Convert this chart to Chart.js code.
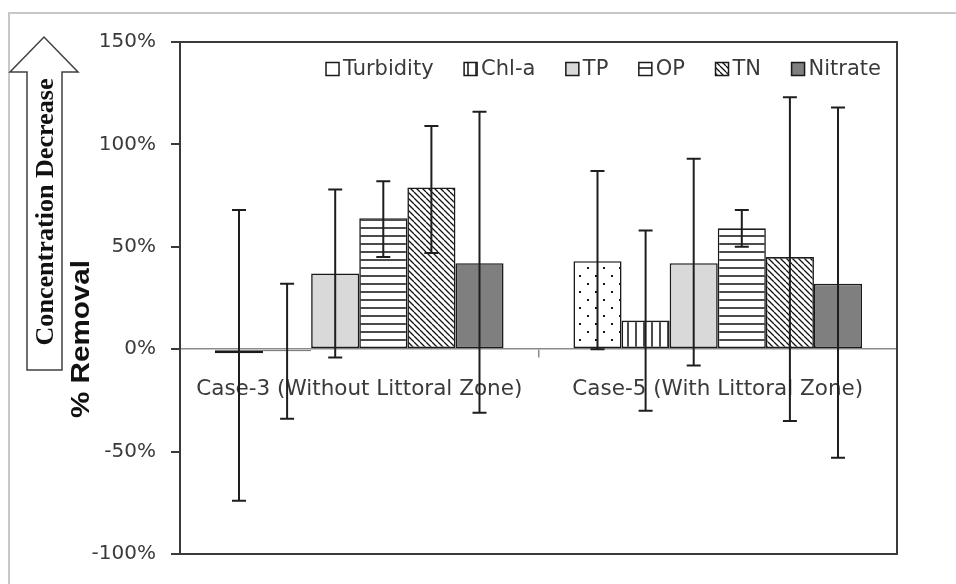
<!DOCTYPE html>
<html>
<head>
<meta charset="utf-8">
<script src="https://cdn.jsdelivr.net/npm/chart.js@4"></script>
<style>
  html, body { margin: 0; padding: 0; background: #fff; }
</style>
</head>
<body>
<canvas id="removalChart" width="956" height="584"></canvas>
<script>
// data (% removal)
const categories = ['Case-3 (Without Littoral Zone)', 'Case-5 (With Littoral Zone)'];
const seriesNames = ['Turbidity', 'Chl-a', 'TP', 'OP', 'TN', 'Nitrate'];
const turbidity = [-2, 43];
const chla = [-1, 14];
const tp = [37, 42];
const op = [64, 59];
const tn = [79, 45];
const nitrate = [42, 32];
// error bar ends: [low, high] per category
const turbidityErr = [[-74, 68], [0, 87]];
const chlaErr = [[-34, 32], [-30, 58]];
const tpErr = [[-4, 78], [-8, 93]];
const opErr = [[45, 82], [50, 68]];
const tnErr = [[47, 109], [-35, 123]];
const nitrateErr = [[-31, 116], [-53, 118]];
const yTicks = [-100, -50, 0, 50, 100, 150];

const textColor = '#3a3a3a';

function makePattern(size, bg, draw) {
  const c = document.createElement('canvas');
  c.width = size; c.height = size;
  const g = c.getContext('2d');
  g.fillStyle = bg;
  g.fillRect(0, 0, size, size);
  g.strokeStyle = '#111';
  g.fillStyle = '#111';
  draw(g, size);
  return c.getContext('2d').createPattern(c, 'repeat');
}

const ctx = document.getElementById('removalChart').getContext('2d');
const dotFill = makePattern(16, '#fff', (g) => {
  g.fillRect(3, 3, 2, 2);
  g.fillRect(11, 11, 2, 2);
});
const vLines = makePattern(8, '#fff', (g) => {
  g.lineWidth = 1.5;
  g.beginPath(); g.moveTo(4, 0); g.lineTo(4, 8); g.stroke();
});
const hLines = makePattern(8, '#fff', (g) => {
  g.lineWidth = 1.5;
  g.beginPath(); g.moveTo(0, 4); g.lineTo(8, 4); g.stroke();
});
const diagLines = makePattern(6, '#fff', (g, s) => {
  g.lineWidth = 1.3;
  g.beginPath();
  for (let k = -s; k <= s; k += s) { g.moveTo(k, 0); g.lineTo(k + s, s); }
  g.stroke();
});

const fills = [dotFill, vLines, '#d9d9d9', hLines, diagLines, '#7f7f7f'];
const values = [turbidity, chla, tp, op, tn, nitrate];
const errs = [turbidityErr, chlaErr, tpErr, opErr, tnErr, nitrateErr];

const datasets = seriesNames.map((name, i) => ({
  label: name,
  data: values[i],
  backgroundColor: fills[i],
  borderColor: '#1a1a1a',
  borderWidth: 1.6,
  borderSkipped: false,
  categoryPercentage: 0.805,
  barPercentage: 1
}));

// frame, error bars, legend, axis title and arrow note
const extras = {
  id: 'extras',
  beforeDraw(chart) {
    const c = chart.ctx;
    c.save();
    c.fillStyle = '#fff';
    c.fillRect(0, 0, chart.width, chart.height);
    c.strokeStyle = '#c8c8c8';
    c.lineWidth = 2;
    c.beginPath();
    c.moveTo(9, chart.height); c.lineTo(9, 13); c.lineTo(chart.width, 13);
    c.stroke();
    c.restore();
  },
  afterDatasetsDraw(chart) {
    const c = chart.ctx;
    const ys = chart.scales.y;
    c.save();
    c.strokeStyle = '#1e1e1e';
    c.lineWidth = 2;
    errs.forEach((set, i) => {
      chart.getDatasetMeta(i).data.forEach((bar, j) => {
        const lo = ys.getPixelForValue(set[j][0]);
        const hi = ys.getPixelForValue(set[j][1]);
        c.beginPath();
        c.moveTo(bar.x, lo); c.lineTo(bar.x, hi);
        c.moveTo(bar.x - 7, lo); c.lineTo(bar.x + 7, lo);
        c.moveTo(bar.x - 7, hi); c.lineTo(bar.x + 7, hi);
        c.stroke();
      });
    });
    c.restore();
  },
  afterDraw(chart) {
    const c = chart.ctx;
    const a = chart.chartArea;
    c.save();
    // plot frame
    c.strokeStyle = '#3a3a3a';
    c.lineWidth = 2;
    c.strokeRect(a.left, a.top, a.right - a.left, a.bottom - a.top);

    // legend, right aligned in the plot
    c.font = '21px "DejaVu Sans"';
    c.textBaseline = 'middle';
    const box = 13, gapText = 4, gapItem = 30.5, ly = 69;
    const widths = seriesNames.map(n => c.measureText(n).width);
    let total = 0;
    widths.forEach((w, i) => { total += box + gapText + w + (i < widths.length - 1 ? gapItem : 0); });
    let lx = a.right - 16 - total;
    seriesNames.forEach((n, i) => {
      c.fillStyle = fills[i];
      c.fillRect(lx, ly - box / 2, box, box);
      c.strokeStyle = '#1a1a1a';
      c.lineWidth = 1.5;
      c.strokeRect(lx, ly - box / 2, box, box);
      c.fillStyle = textColor;
      c.fillText(n, lx + box + gapText, ly + 1);
      lx += box + gapText + widths[i] + gapItem;
    });

    // y axis title
    c.translate(82, 339);
    c.rotate(-Math.PI / 2);
    c.font = 'bold 26px "Liberation Sans"';
    c.textAlign = 'center';
    c.textBaseline = 'middle';
    c.fillStyle = '#111';
    let w = c.measureText('% Removal').width;
    c.save();
    c.scale(158 / w, 1);
    c.fillText('% Removal', 0, 0);
    c.restore();
    c.setTransform(1, 0, 0, 1, 0, 0);

    // arrow with note
    c.strokeStyle = '#404040';
    c.lineWidth = 1.5;
    c.fillStyle = '#fff';
    c.beginPath();
    c.moveTo(27, 370); c.lineTo(27, 72); c.lineTo(10, 72); c.lineTo(44, 37);
    c.lineTo(78, 72); c.lineTo(62, 72); c.lineTo(62, 370); c.closePath();
    c.fill(); c.stroke();
    c.translate(45, 212);
    c.rotate(-Math.PI / 2);
    c.font = 'bold 26px "Liberation Serif"';
    c.fillStyle = '#111';
    w = c.measureText('Concentration Decrease').width;
    c.scale(267 / w, 1);
    c.fillText('Concentration Decrease', 0, 1);
    c.restore();
  }
};

const removalChart = new Chart(ctx, {
  type: 'bar',
  data: { labels: categories, datasets: datasets },
  options: {
    responsive: false,
    animation: false,
    layout: { padding: { left: 0, top: 42, right: 59, bottom: 30 } },
    plugins: { legend: { display: false }, tooltip: { enabled: false } },
    scales: {
      x: {
        position: { y: 0 },
        grid: { offset: true, drawOnChartArea: false, tickLength: 8, color: '#8c8c8c', lineWidth: 1.5 },
        border: { color: '#8c8c8c', width: 1.5 },
        ticks: { font: { family: 'DejaVu Sans', size: 21.5 }, color: textColor, padding: 19 }
      },
      y: {
        min: -100,
        max: 150,
        afterBuildTicks: s => { s.ticks = yTicks.map(v => ({ value: v })); },
        afterFit: s => { s.width = 180; },
        grid: { drawOnChartArea: false, tickLength: 9, color: '#3a3a3a', lineWidth: 2 },
        border: { color: '#3a3a3a', width: 2 },
        ticks: { font: { family: 'DejaVu Sans', size: 20 }, color: textColor, padding: 15, callback: v => v + '%' }
      }
    }
  },
  plugins: [extras]
});
</script>
</body>
</html>
